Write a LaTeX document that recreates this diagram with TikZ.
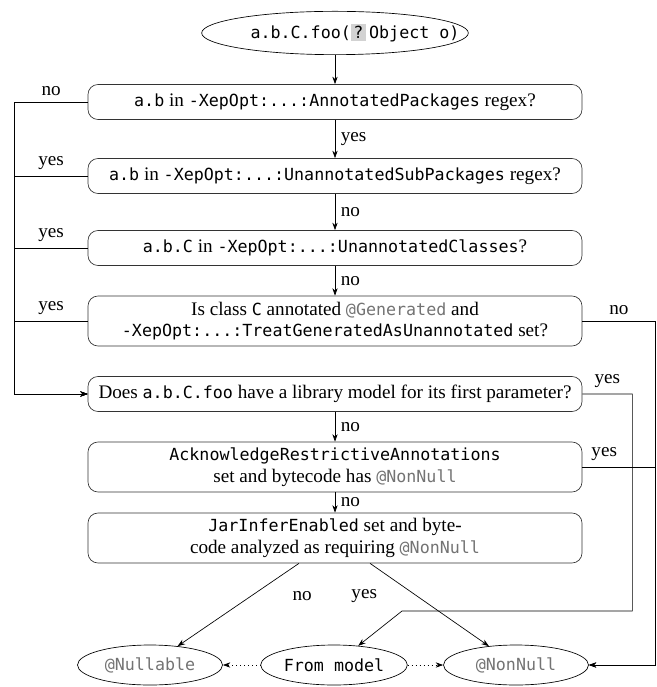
\documentclass[tikz,border=0pt]{standalone}
\usepackage{fontspec}
\setmainfont{Liberation Serif}
\setmonofont[Scale=0.87]{DejaVu Sans Mono}
\usetikzlibrary{shapes.geometric,arrows.meta}

\definecolor{annogray}{gray}{0.45}
\newcommand{\code}[1]{\texttt{#1}}
\newcommand{\anno}[1]{\textcolor{annogray}{\texttt{#1}}}

\begin{document}
\begin{tikzpicture}[x=0.6pt, y=-0.6pt, font=\fontsize{11.5}{13}\selectfont,
    test/.style={draw=black!80, rounded corners=6pt, minimum width=296.4pt,
      minimum height=21pt, align=center, inner sep=2pt},
    test2/.style={test, minimum height=30pt},
    term/.style={draw, ellipse, inner sep=1pt, minimum width=87pt, minimum height=24pt},
    >={Stealth[length=4.5pt,width=3.2pt]}]
    \useasboundingbox (0,0) rectangle (656,687);

    \node[term, minimum width=160pt, minimum height=26pt] (start) at (335,33)
      {\makebox[108pt]{\hspace*{24pt}\code{a.b.C.foo(}{\fboxsep=1.5pt\colorbox{gray!35}{\code{?}}}\,\code{Object o)}}};

    \node[test] (b1) at (335,102)
      {\code{a.b} in \code{-XepOpt:...:AnnotatedPackages} regex?};
    \node[test] (b2) at (335,176)
      {\code{a.b} in \code{-XepOpt:...:UnannotatedSubPackages} regex?};
    \node[test] (b3) at (335,248)
      {\code{a.b.C} in \code{-XepOpt:...:UnannotatedClasses}?};
    \node[test2] (b4) at (335,321)
      {Is class \code{C} annotated \anno{@Generated} and\\
       \code{-XepOpt:...:TreatGeneratedAsUnannotated} set?};
    \node[test] (b5) at (335,394)
      {Does \code{a.b.C.foo} have a library model for its first parameter?};
    \node[test2] (b6) at (335,467)
      {\code{AcknowledgeRestrictiveAnnotations}\\ set and bytecode has \anno{@NonNull}};
    \node[test2] (b7) at (335,538)
      {\code{JarInferEnabled} set and byte-\\code analyzed as requiring \anno{@NonNull}};

    \node[term] (nullable) at (150,665) {\anno{@Nullable}};
    \node[term] (model) at (334,665) {\code{From model}};
    \node[term] (nonnull) at (516,665) {\anno{@NonNull}};
    \coordinate (turn) at (402,611);

    % straight down
    \draw[->] (start) -- (b1);
    \draw[->] (b1) -- node[right] {yes} (b2);
    \draw[->] (b2) -- node[right] {no} (b3);
    \draw[->] (b3) -- node[right] {no} (b4);
    \draw[->] (b5) -- node[right] {no} (b6);
    \draw[->] (b6) -- node[right] {no} (b7);

    % left side, all into the library model test
    \draw[->] (b1.west) -- node[above] {no} ++(-73,0) |- (b5.west);
    \draw[->] (b2.west) -- node[above] {yes} ++(-73,0) |- (b5.west);
    \draw[->] (b3.west) -- node[above] {yes} ++(-73,0) |- (b5.west);
    \draw[->] (b4.west) -- node[above] {yes} ++(-73,0) |- (b5.west);

    % right side
    \draw[->] (b4.east) -- node[above] {no} ++(73,0) |- (nonnull.east);
    \draw[->] (b6.east) -- node[above, pos=0.3] {yes} ++(73,0) |- (nonnull.east);
    \draw[->] (b5.east) -- node[above] {yes} ++(50,0) |- (turn) -- (model);

    \draw[->] ([xshift=-21.6pt]b7.south) -- node[pos=0.4, xshift=31pt] {no} (nullable);
    \draw[->] ([xshift=21pt]b7.south) -- node[pos=0.4, xshift=-32pt] {yes} (nonnull);

    \draw[dotted, ->] (model) -- (nullable);
    \draw[dotted, ->] (model) -- (nonnull);
\end{tikzpicture}
\end{document}
